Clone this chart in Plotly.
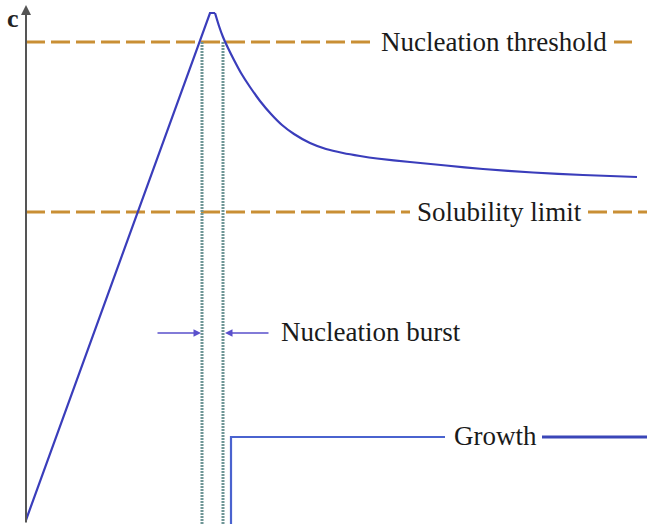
import plotly.graph_objects as go

# ---- data (time in arbitrary units, concentration in arbitrary units) ----
rise_time = [0, 184, 189]
rise_conc = [0, 507, 507]
decay_time = [189, 193, 197, 202, 208, 215, 224, 234, 245, 256, 268, 284, 300, 317, 334, 351, 384, 420, 457, 507, 557, 611]
decay_conc = [507, 494, 483, 472, 460, 447, 433, 419, 406, 395, 386, 377, 371, 367, 364, 361.5, 358, 354.5, 351, 347.5, 345, 343]

threshold_level = 478
solubility_level = 308
burst_start = 176
burst_end = 197
growth_start = 205
growth_level = 83
time_max = 621
conc_min = -4
conc_axis_top = 515

label_threshold = "Nucleation threshold"
label_solubility = "Solubility limit"
label_burst = "Nucleation burst"
label_growth = "Growth"
label_axis = "c"

orange = "#c98f35"
blue = "#3a3dbb"
font_family = "Liberation Serif, Times New Roman, serif"
FS = 27

fig = go.Figure()

for xs in ([0, 349], [588, 606]):
    fig.add_trace(go.Scatter(x=xs, y=[threshold_level] * 2, mode="lines",
                             line=dict(color=orange, width=3, dash="19px,6px"),
                             hoverinfo="skip"))
for xs in ([0, 384], [562, time_max]):
    fig.add_trace(go.Scatter(x=xs, y=[solubility_level] * 2, mode="lines",
                             line=dict(color=orange, width=3, dash="19px,6px"),
                             hoverinfo="skip"))

for xb in (burst_start, burst_end):
    fig.add_trace(go.Scatter(x=[xb, xb], y=[threshold_level, conc_min], mode="lines",
                             line=dict(color="#6f9696", width=3, dash="2px,1px"),
                             hoverinfo="skip"))

fig.add_trace(go.Scatter(x=rise_time, y=rise_conc, mode="lines",
                         line=dict(color=blue, width=2.2), hoverinfo="skip"))
fig.add_trace(go.Scatter(x=decay_time, y=decay_conc, mode="lines",
                         line=dict(color=blue, width=2.2, shape="spline", smoothing=0.5),
                         hoverinfo="skip"))

fig.add_trace(go.Scatter(x=[growth_start, growth_start, 419], y=[conc_min, growth_level, growth_level],
                         mode="lines", line=dict(color="#4a63cf", width=2.2), hoverinfo="skip"))
fig.add_trace(go.Scatter(x=[516, time_max], y=[growth_level, growth_level],
                         mode="lines", line=dict(color="#3a46b8", width=3), hoverinfo="skip"))

annotations = [
    dict(x=0, y=conc_axis_top, ax=0, ay=conc_min, xref="x", yref="y", axref="x", ayref="y",
         showarrow=True, arrowhead=2, arrowsize=1, arrowwidth=2, arrowcolor="#555555", text=""),
    dict(x=-13, y=502, xref="x", yref="y", text="<b>" + label_axis + "</b>", showarrow=False,
         font=dict(family=font_family, size=26, color="#222222")),
    dict(x=burst_start - 1, y=187, ax=130, ay=187, xref="x", yref="y", axref="x", ayref="y",
         showarrow=True, arrowhead=2, arrowsize=1, arrowwidth=1.5, arrowcolor="#5a50cc", text=""),
    dict(x=burst_end + 2, y=187, ax=244, ay=187, xref="x", yref="y", axref="x", ayref="y",
         showarrow=True, arrowhead=2, arrowsize=1, arrowwidth=1.5, arrowcolor="#5a50cc", text=""),
    dict(x=353, y=threshold_level, xref="x", yref="y", text=label_threshold, showarrow=False,
         xanchor="left", yanchor="middle", font=dict(family=font_family, size=FS, color="#1a1a1a")),
    dict(x=389, y=solubility_level, xref="x", yref="y", text=label_solubility, showarrow=False,
         xanchor="left", yanchor="middle", font=dict(family=font_family, size=FS, color="#1a1a1a")),
    dict(x=253, y=188, xref="x", yref="y", text=label_burst, showarrow=False,
         xanchor="left", yanchor="middle", font=dict(family=font_family, size=FS, color="#1a1a1a")),
    dict(x=426, y=growth_level + 1, xref="x", yref="y", text=label_growth, showarrow=False,
         xanchor="left", yanchor="middle", font=dict(family=font_family, size=FS, color="#1a1a1a")),
]

fig.update_layout(
    width=647, height=524,
    margin=dict(l=0, r=0, t=0, b=0),
    paper_bgcolor="white", plot_bgcolor="white",
    showlegend=False,
    xaxis=dict(range=[-26, time_max], visible=False, fixedrange=True),
    yaxis=dict(range=[conc_min, 520], visible=False, fixedrange=True),
    annotations=annotations,
)

fig.write_html("out.html", config={"displayModeBar": False},
               post_script="document.body.style.margin='0';document.body.style.padding='0';")
